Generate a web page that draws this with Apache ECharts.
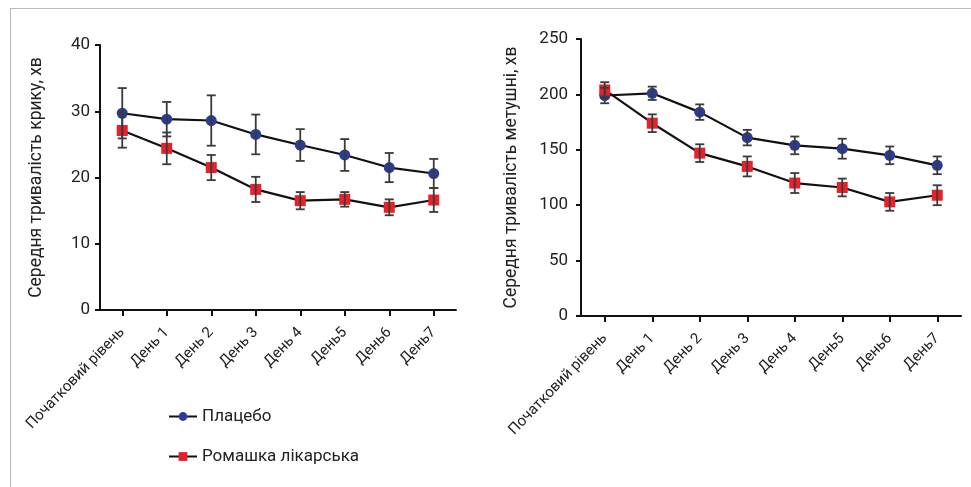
<!DOCTYPE html>
<html>
<head>
<meta charset="utf-8">
<script src="https://cdn.jsdelivr.net/npm/echarts@6/dist/echarts.min.js"></script>
<style>
html,body{margin:0;padding:0;background:#fff;}
#chart{width:971px;height:487px;}
</style>
</head>
<body>
<div id="chart"></div>
<script>
var categories = ['Початковий рівень','День 1','День 2','День 3','День 4','День5','День6','День7'];
var seriesNames = ['Плацебо','Ромашка лікарська'];
var cryAxisName = 'Середня тривалість крику, хв';
var fussAxisName = 'Середня тривалість метушні, хв';
var cryTicks = [0, 10, 20, 30, 40];
var fussTicks = [0, 50, 100, 150, 200, 250];

var cryPlacebo = [29.7, 28.8, 28.6, 26.5, 24.9, 23.4, 21.5, 20.6];
var cryPlaceboErr = [3.8, 2.6, 3.8, 3.0, 2.4, 2.4, 2.2, 2.2];
var cryChamomile = [27.1, 24.4, 21.5, 18.2, 16.5, 16.7, 15.5, 16.6];
var cryChamomileErr = [2.6, 2.4, 1.9, 1.9, 1.3, 1.1, 1.2, 1.8];

var fussPlacebo = [199, 201, 184, 161, 154, 151, 145, 136];
var fussPlaceboErr = [7, 6, 7, 7, 8, 9, 8, 8];
var fussChamomile = [204, 174, 147, 135, 120, 116, 103, 109];
var fussChamomileErr = [7, 8, 8, 9, 9, 8, 8, 9];

var FONT = 'Roboto';
var chart = echarts.init(document.getElementById('chart'), null, {renderer: 'canvas'});

function errData(vals, errs) {
  return vals.map(function (v, i) { return [i, v - errs[i], v + errs[i]]; });
}
function errSeries(vals, errs, axisIdx) {
  return {
    type: 'custom',
    xAxisIndex: axisIdx, yAxisIndex: axisIdx,
    z: 4,
    silent: true,
    data: errData(vals, errs),
    renderItem: function (params, api) {
      var x = api.value(0);
      var lo = api.coord([x, api.value(1)]);
      var hi = api.coord([x, api.value(2)]);
      var w = 4.5;
      var st = {stroke: '#3a3a3a', lineWidth: 1.8};
      return {
        type: 'group',
        children: [
          {type: 'line', shape: {x1: lo[0], y1: lo[1], x2: hi[0], y2: hi[1]}, style: st},
          {type: 'line', shape: {x1: lo[0] - w, y1: lo[1], x2: lo[0] + w, y2: lo[1]}, style: st},
          {type: 'line', shape: {x1: hi[0] - w, y1: hi[1], x2: hi[0] + w, y2: hi[1]}, style: st}
        ]
      };
    }
  };
}
function lineSeries(name, vals, axisIdx, symbol, color) {
  return {
    name: name,
    type: 'line',
    xAxisIndex: axisIdx, yAxisIndex: axisIdx,
    data: vals,
    symbol: symbol,
    symbolSize: 11,
    z: 3,
    lineStyle: {color: '#111', width: 2.2},
    itemStyle: {color: color, borderWidth: 0},
    emphasis: {disabled: true}
  };
}
function xAxis(gridIdx) {
  return {
    type: 'category', gridIndex: gridIdx, data: categories, boundaryGap: true,
    axisLine: {lineStyle: {color: '#111', width: 2}},
    axisTick: {show: true, alignWithLabel: true, length: 6, lineStyle: {color: '#111', width: 2}},
    axisLabel: {rotate: 46, interval: 0, fontFamily: FONT, fontSize: 15, color: '#222', margin: 20}
  };
}
function yAxis(gridIdx, ticks, name, gap, margin) {
  return {
    type: 'value', gridIndex: gridIdx,
    min: ticks[0], max: ticks[ticks.length - 1], interval: ticks[1] - ticks[0],
    name: name, nameLocation: 'middle', nameGap: gap, nameRotate: 90,
    nameTextStyle: {fontFamily: FONT, fontSize: 17.5, color: '#222'},
    splitLine: {show: false},
    axisLine: {show: true, lineStyle: {color: '#111', width: 2}},
    axisTick: {show: true, length: 5, lineStyle: {color: '#111', width: 2}},
    axisLabel: {fontFamily: FONT, fontSize: 17, color: '#222', margin: margin}
  };
}

var option = {
  backgroundColor: '#fff',
  animation: false,
  graphic: [
    {type: 'line', shape: {x1: 10, y1: 8.5, x2: 971, y2: 8.5}, style: {stroke: '#b8b8b8', lineWidth: 1}},
    {type: 'line', shape: {x1: 10.5, y1: 8, x2: 10.5, y2: 487}, style: {stroke: '#b8b8b8', lineWidth: 1}}
  ],
  grid: [
    {left: 100, top: 45, width: 356, height: 265},
    {left: 581, top: 39, width: 380, height: 277}
  ],
  legend: {
    data: seriesNames,
    orient: 'vertical',
    left: 163, top: 403,
    itemWidth: 28, itemHeight: 11,
    itemGap: 23,
    textStyle: {fontFamily: FONT, fontSize: 17, color: '#222'},
    selectedMode: false
  },
  xAxis: [xAxis(0), xAxis(1)],
  yAxis: [yAxis(0, cryTicks, cryAxisName, 54, 10), yAxis(1, fussTicks, fussAxisName, 60, 13)],
  series: [
    lineSeries(seriesNames[0], cryPlacebo, 0, 'circle', '#2b3b96'),
    lineSeries(seriesNames[1], cryChamomile, 0, 'rect', '#e8202a'),
    errSeries(cryPlacebo, cryPlaceboErr, 0),
    errSeries(cryChamomile, cryChamomileErr, 0),
    lineSeries(seriesNames[0], fussPlacebo, 1, 'circle', '#2b3b96'),
    lineSeries(seriesNames[1], fussChamomile, 1, 'rect', '#e8202a'),
    errSeries(fussPlacebo, fussPlaceboErr, 1),
    errSeries(fussChamomile, fussChamomileErr, 1)
  ]
};
chart.setOption(option);
</script>
</body>
</html>
